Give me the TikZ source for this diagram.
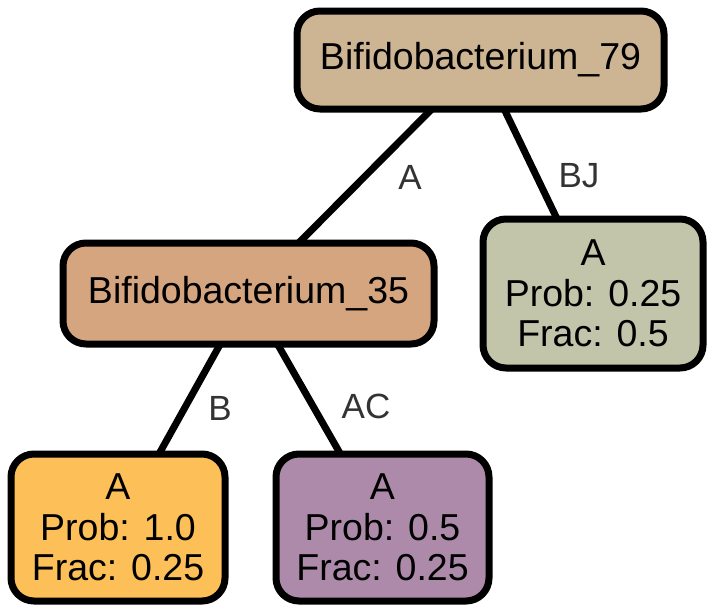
\documentclass[tikz,border=0pt]{standalone}
\usepackage{fontspec}
\setmainfont{Liberation Sans}
\usetikzlibrary{backgrounds}
\definecolor{rootc}{RGB}{205,181,147}
\definecolor{midc}{RGB}{212,165,127}
\definecolor{rleaf}{RGB}{194,197,170}
\definecolor{lleaf}{RGB}{253,191,87}
\definecolor{mleaf}{RGB}{173,138,170}
\definecolor{lab}{RGB}{51,51,51}
\tikzset{
  box/.style={draw=black, line width=7pt, rounded corners=23pt, inner sep=0pt,
    align=center, font=\fontsize{37.5}{40.5}\selectfont, text=black},
  edge/.style={draw=black, line width=7pt},
  elab/.style={font=\fontsize{35}{38}\selectfont, text=lab, inner sep=0pt}
}
\begin{document}
\begin{tikzpicture}[x=1pt,y=-1pt]
\useasboundingbox (0,0) rectangle (714,613);
\node[box, fill=rootc, minimum width=367pt, minimum height=98pt] (root) at (480.5,60) {Bifidobacterium\_79};
\node[box, fill=midc, minimum width=371pt, minimum height=101pt] (mid) at (248.5,293.5) {Bifidobacterium\_35};
\node[box, fill=rleaf, minimum width=220pt, minimum height=149pt] (r) at (593,293.5) {A\\Prob: 0.25\\Frac: 0.5};
\node[box, fill=lleaf, minimum width=214pt, minimum height=147pt] (l) at (118,527.5) {A\\Prob: 1.0\\Frac: 0.25};
\node[box, fill=mleaf, minimum width=213pt, minimum height=147pt] (m) at (382.5,527.5) {A\\Prob: 0.5\\Frac: 0.25};
\begin{scope}[on background layer]
\draw[edge] (root.center) -- (mid.center);
\draw[edge] (root.center) -- (r.center);
\draw[edge] (mid.center) -- (l.center);
\draw[edge] (mid.center) -- (m.center);
\end{scope}
\node[elab] (la) at (410,177) {A};
\node[elab] (lbj) at (579,176) {BJ};
\node[elab] (lb) at (220,408) {B};
\node[elab] (lac) at (366,406) {AC};
\end{tikzpicture}
\end{document}
